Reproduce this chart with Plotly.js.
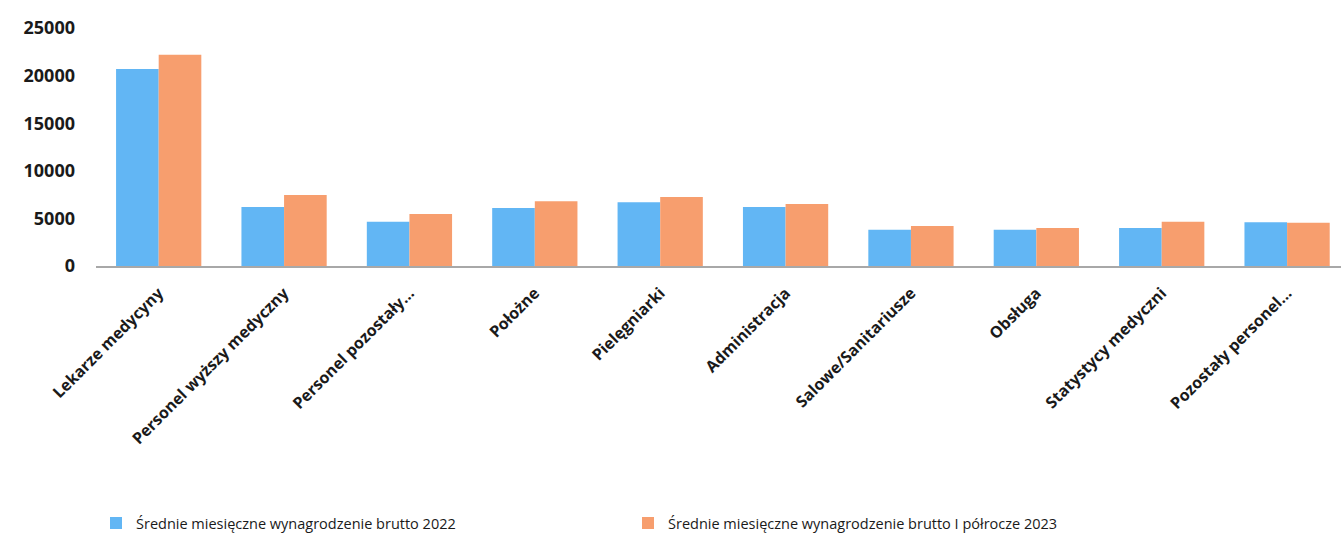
<!DOCTYPE html>
<html>
<head>
<meta charset="utf-8">
<script src="https://cdn.plot.ly/plotly-3.0.1.min.js"></script>
<style>html,body{margin:0;padding:0;background:#fff;}#chart{width:1341px;height:546px;}</style>
</head>
<body>
<div id="chart"></div>
<script>
const categories = ["Lekarze medycyny", "Personel wyższy medyczny", "Personel pozostały…", "Położne", "Pielęgniarki", "Administracja", "Salowe/Sanitariusze", "Obsługa", "Statystycy medyczni", "Pozostały personel…"];
const wages2022 = [20700, 6200, 4650, 6100, 6700, 6200, 3800, 3800, 4000, 4600];
const wages2023H1 = [22200, 7450, 5450, 6800, 7250, 6500, 4200, 4000, 4650, 4550];
const seriesNames = ["Średnie miesięczne wynagrodzenie brutto 2022", "Średnie miesięczne wynagrodzenie brutto I półrocze 2023"];
const yTicks = [0, 5000, 10000, 15000, 20000, 25000];

const traces = [
  {type: 'bar', x: categories, y: wages2022, name: seriesNames[0], marker: {color: '#62B6F4'}},
  {type: 'bar', x: categories, y: wages2023H1, name: seriesNames[1], marker: {color: '#F79E6E'}}
];

const layout = {
  width: 1341, height: 546,
  margin: {l: 96, r: 0, t: 28, b: 280},
  paper_bgcolor: '#ffffff', plot_bgcolor: '#ffffff',
  barmode: 'group', bargap: 0.32, bargroupgap: 0,
  font: {family: 'Open Sans, sans-serif', color: '#222'},
  xaxis: {
    type: 'category', range: [-0.5, 9.43],
    tickangle: -45, showgrid: false, ticks: '',
    showline: true, linecolor: '#a8a8a8', linewidth: 1.5,
    ticklabelstandoff: 10,
    tickfont: {family: 'Open Sans, sans-serif', size: 16, color: '#1a1a1a', weight: 'bold'}
  },
  yaxis: {
    range: [0, 25000], tickvals: yTicks, tickformat: 'd', showgrid: false, zeroline: false,
    showline: false, ticks: '', ticklabelstandoff: 20,
    tickfont: {family: 'Open Sans, sans-serif', size: 18, color: '#1a1a1a', weight: 'bold'}
  },
  showlegend: true,
  legend: {
    orientation: 'h', xref: 'container', yref: 'container',
    x: 0.0716, y: 0.042, xanchor: 'left', yanchor: 'middle',
    entrywidth: 487, entrywidthmode: 'pixels',
    font: {family: 'Open Sans, sans-serif', size: 14.5, color: '#1a1a1a'},
    bgcolor: 'rgba(0,0,0,0)'
  }
};

Plotly.newPlot('chart', traces, layout, {displayModeBar: false, staticPlot: true});
</script>
</body>
</html>
